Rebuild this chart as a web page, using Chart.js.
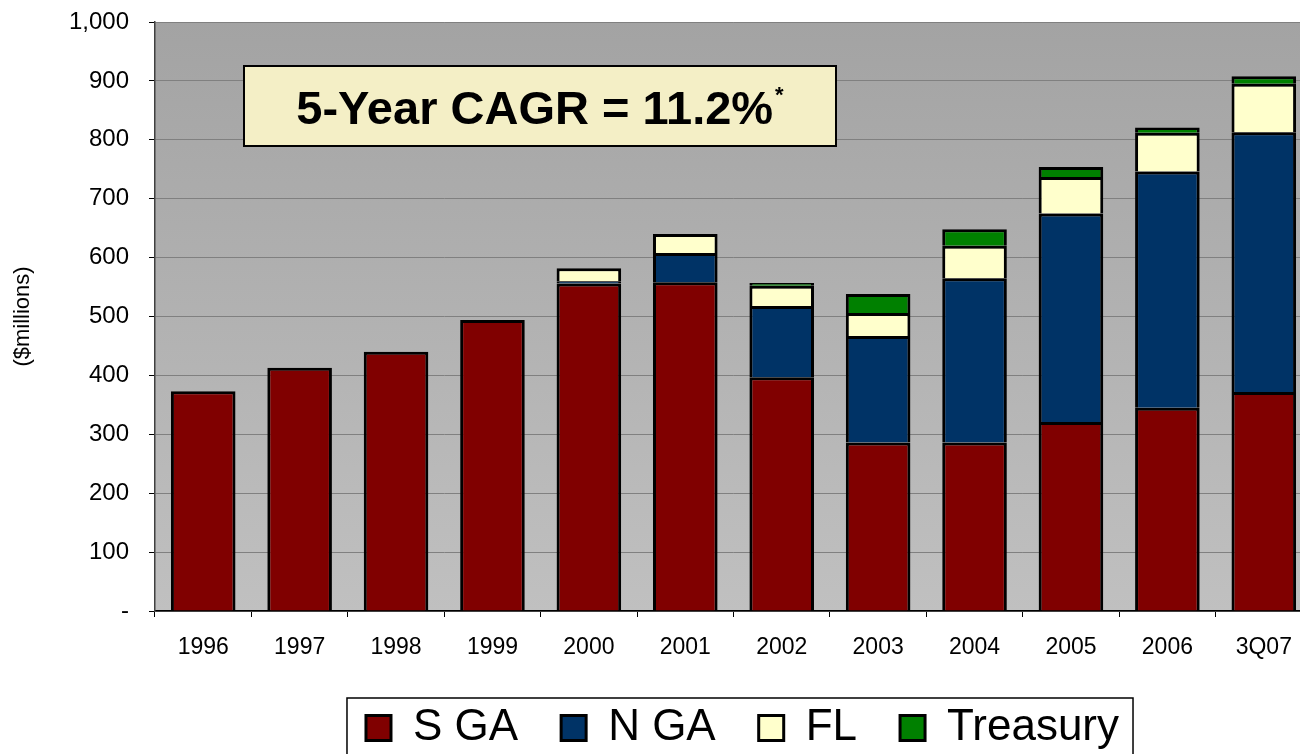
<!DOCTYPE html>
<html><head><meta charset="utf-8">
<script src="https://cdn.jsdelivr.net/npm/chart.js@4"></script>
<style>html,body{margin:0;padding:0;overflow:hidden;background:#fff}
#wrap{position:absolute;left:0;top:0;width:1320px;height:754px}</style>
</head><body><div id="wrap"><canvas id="c" width="1320" height="754"></canvas></div>
<script>
const categories = ['1996','1997','1998','1999','2000','2001','2002','2003','2004','2005','2006','3Q07'];
const sGA      = [373, 413, 440, 494, 556, 558, 397, 286, 286, 321, 345, 372];
const nGA      = [0, 0, 0, 0, 4, 50, 121, 181, 279, 354, 401, 441];
const fl       = [0, 0, 0, 0, 22, 32, 34, 39, 55, 62, 66, 82];
const treasury = [0, 0, 0, 0, 0, 0, 5, 32, 28, 17, 9, 13];
const seriesNames = ['S GA', 'N GA', 'FL', 'Treasury'];
const yTitle = '($millions)';
const annotationText = '5-Year CAGR = 11.2%';
const annotationMark = '*';

const FONT = '"Liberation Sans", Arial, Helvetica, sans-serif';

const plotBg = {
  id: 'plotBg',
  beforeDraw(chart) {
    const {ctx, chartArea: a} = chart;
    const g = ctx.createLinearGradient(0, a.top, 0, a.bottom);
    g.addColorStop(0, '#a3a3a3');
    g.addColorStop(1, '#c0c0c0');
    ctx.save();
    ctx.fillStyle = g;
    ctx.fillRect(a.left, a.top, a.right - a.left, a.bottom - a.top);
    ctx.restore();
  }
};

const legendShift = {
  id: 'legendShift',
  afterLayout(chart) {
    const lg = chart.legend, a = chart.chartArea;
    lg.left = a.left;
    lg.right = a.right + 18;
    lg.width = lg.right - lg.left;
  }
};

const decorations = {
  id: 'decorations',
  afterDraw(chart) {
    const {ctx, chartArea: a} = chart;
    ctx.save();
    // legend frame
    const hb = chart.legend.legendHitBoxes;
    if (hb && hb.length) {
      const f = hb[0], l = hb[hb.length - 1];
      const x0 = f.left - 19, x1 = l.left + l.width + 14;
      ctx.strokeStyle = '#000';
      ctx.lineWidth = 1.5;
      ctx.strokeRect(x0, f.top - 8, x1 - x0, 80);
    }
    // annotation box
    const x = a.left + 89, y = a.top + 44, w = 592, h = 80;
    ctx.fillStyle = '#F4EFC6';
    ctx.fillRect(x, y, w, h);
    ctx.lineWidth = 2;
    ctx.strokeStyle = '#000';
    ctx.strokeRect(x, y, w, h);
    ctx.fillStyle = '#000';
    ctx.textBaseline = 'alphabetic';
    ctx.textAlign = 'left';
    ctx.font = 'bold 47px ' + FONT;
    const tw = ctx.measureText(annotationText).width;
    ctx.font = 'bold 22px ' + FONT;
    const sw = ctx.measureText(annotationMark).width;
    const total = tw + 2 + sw;
    const tx = x + w / 2 - total / 2;
    ctx.font = 'bold 47px ' + FONT;
    ctx.fillText(annotationText, tx, y + 58);
    ctx.font = 'bold 22px ' + FONT;
    ctx.fillText(annotationMark, tx + tw + 2, y + 36);
    ctx.restore();
  }
};

const colors = ['#800000', '#003366', '#FFFFCC', '#008000'];
const values = [sGA, nGA, fl, treasury];

new Chart(document.getElementById('c'), {
  type: 'bar',
  data: {
    labels: categories,
    datasets: seriesNames.map((n, i) => ({
      label: n,
      data: values[i],
      backgroundColor: colors[i],
      borderColor: '#000',
      borderWidth: 3,
      categoryPercentage: 1.0,
      barPercentage: 0.67
    }))
  },
  options: {
    responsive: false,
    animation: false,
    devicePixelRatio: 1,
    layout: { padding: { top: 22, right: 8, left: 0, bottom: 0 } },
    plugins: {
      tooltip: { enabled: false },
      legend: {
        position: 'bottom',
        maxHeight: 91,
        labels: {
          font: { family: FONT, size: 44 },
          color: '#000',
          boxWidth: 25,
          boxHeight: 25,
          padding: 43
        }
      }
    },
    scales: {
      x: {
        stacked: true,
        grid: { display: true, drawOnChartArea: false, drawTicks: true, tickLength: 6, color: '#000', tickColor: '#000', offset: true },
        border: { display: true, color: '#000', width: 1.5 },
        ticks: { color: '#000', font: { family: FONT, size: 23 }, padding: 17, maxRotation: 0 },
        afterFit(s) { s.height = 52; s.paddingLeft = 0; s.paddingRight = 0; }
      },
      y: {
        stacked: true,
        min: 0, max: 1000,
        grid: { color: '#808080', lineWidth: 1, tickColor: '#000', tickLength: 6 },
        border: { display: true, color: '#404040', width: 1.5 },
        ticks: {
          stepSize: 100,
          color: '#000',
          font: { family: FONT, size: 24 },
          padding: 20,
          callback: v => v === 0 ? '-' : Number(v).toLocaleString('en-US')
        },
        title: { display: true, text: yTitle, color: '#000', font: { family: FONT, size: 22 }, padding: { top: 10, bottom: 0 } },
        afterFit(s) { s.width = 155; s.paddingTop = 0; s.paddingBottom = 0; }
      }
    }
  },
  plugins: [plotBg, legendShift, decorations]
});
</script></body></html>
